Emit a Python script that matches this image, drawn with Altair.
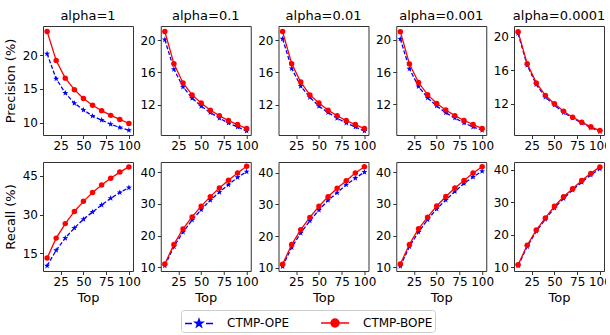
import altair as alt
import pandas as pd

TOPS = [10, 20, 30, 40, 50, 60, 70, 80, 90, 100]
ALPHAS = ["1", "0.1", "0.01", "0.001", "0.0001"]
SERIES = ["CTMP-OPE", "CTMP-BOPE"]

PREC_OPE = [
    [20.2, 16.5, 14.4, 12.9, 11.9, 11.0, 10.4, 9.8, 9.3, 8.9],
    [20.1, 16.4, 14.2, 12.8, 11.8, 11.0, 10.3, 9.7, 9.2, 8.7],
    [20.2, 16.5, 14.3, 12.9, 11.8, 11.0, 10.3, 9.7, 9.2, 8.7],
    [20.1, 16.4, 14.2, 12.8, 11.8, 10.95, 10.3, 9.7, 9.2, 8.8],
    [20.4, 16.6, 14.3, 12.8, 11.85, 10.95, 10.3, 9.7, 9.15, 8.7],
]
PREC_BOPE = [
    [23.5, 19.2, 16.6, 14.9, 13.6, 12.6, 11.8, 11.1, 10.5, 9.9],
    [21.1, 17.1, 14.7, 13.2, 12.2, 11.3, 10.6, 10.0, 9.5, 9.0],
    [21.1, 17.1, 14.8, 13.2, 12.2, 11.3, 10.6, 10.0, 9.5, 9.0],
    [21.0, 17.0, 14.7, 13.2, 12.1, 11.3, 10.6, 10.0, 9.5, 9.0],
    [20.6, 16.8, 14.5, 13.0, 12.0, 11.1, 10.4, 9.8, 9.25, 8.8],
]
REC_OPE = [
    [10.2, 16.2, 20.9, 24.8, 28.2, 31.0, 33.7, 36.3, 38.5, 40.4],
    [10.5, 16.5, 21.1, 24.9, 28.2, 31.2, 33.7, 36.1, 38.4, 40.2],
    [10.4, 16.4, 21.0, 24.8, 28.2, 31.3, 33.7, 36.2, 38.3, 40.2],
    [10.3, 16.5, 21.1, 25.0, 28.4, 31.2, 33.9, 36.4, 38.5, 40.3],
    [10.5, 16.4, 21.1, 24.8, 28.3, 31.2, 33.8, 36.2, 38.4, 40.3],
]
REC_BOPE = [
    [13.2, 20.9, 26.5, 31.2, 35.1, 38.5, 41.4, 44.0, 46.4, 48.4],
    [11.0, 17.2, 22.1, 25.9, 29.3, 32.3, 35.0, 37.5, 39.8, 41.9],
    [11.05, 17.3, 22.0, 25.9, 29.4, 32.4, 35.1, 37.5, 39.9, 41.9],
    [11.0, 17.2, 22.1, 25.8, 29.3, 32.3, 35.0, 37.4, 39.7, 41.7],
    [10.8, 16.8, 21.5, 25.2, 28.8, 31.7, 34.2, 36.7, 38.9, 40.9],
]

PREC_DOMAIN = [[8.2, 24.3], [8.2, 21.8], [8.2, 21.8], [8.2, 21.7], [8.27, 21.3]]
REC_DOMAIN = [[8.2, 50.3], [8.8, 43.25], [8.95, 43.4], [8.8, 43.2], [8.9, 42.4]]
PREC_TICKS = [[10, 15, 20], [12, 16, 20], [12, 16, 20], [12, 16, 20], [12, 16, 20]]
REC_TICKS = [[15, 30, 45], [10, 20, 30, 40], [10, 20, 30, 40], [10, 20, 30, 40], [10, 20, 30, 40]]
X_TICKS = [25, 50, 75, 100]

BLUE = "#0000ff"
RED = "#ff0000"

STAR_POINT = ("M0,-1L0.235,-0.324L0.951,-0.309L0.38,0.124L0.588,0.809L0,0.4"
              "L-0.588,0.809L-0.38,0.124L-0.951,-0.309L-0.235,-0.324Z")
STAR = ("M0,-0.4L0.094,-0.13L0.38,-0.124L0.152,0.05L0.235,0.324L0,0.16"
        "L-0.235,0.324L-0.152,0.05L-0.38,-0.124L-0.094,-0.13Z")
BLUE_SYM = "M-1.4,0H-0.7M0.7,0H1.4" + STAR
RED_SYM = "M-1.4,0H1.4M0.4,0A0.4,0.4 0 1,1 -0.4,0A0.4,0.4 0 1,1 0.4,0Z"


def make_df(tops, ope, bope):
    return pd.DataFrame({
        "rank": list(tops) + list(tops),
        "series": [SERIES[0]] * len(tops) + [SERIES[1]] * len(tops),
        "value": list(ope) + list(bope),
    })


def panel(metric, i):
    top_row = metric == "Precision"
    if top_row:
        d = make_df(TOPS, PREC_OPE[i], PREC_BOPE[i])
        dom, ticks = PREC_DOMAIN[i], PREC_TICKS[i]
    else:
        d = make_df(TOPS, REC_OPE[i], REC_BOPE[i])
        dom, ticks = REC_DOMAIN[i], REC_TICKS[i]
    xaxis = alt.Axis(values=X_TICKS, title="Top") if not top_row else alt.Axis(values=X_TICKS, title="")
    yaxis = alt.Axis(values=ticks, title=f"{metric} (%)") if i == 0 else alt.Axis(values=ticks, title="")
    base = alt.Chart(d).encode(
        x=alt.X("rank:Q", scale=alt.Scale(domain=[5.5, 104.5], nice=False, zero=False), axis=xaxis),
        y=alt.Y("value:Q", scale=alt.Scale(domain=dom, nice=False, zero=False), axis=yaxis),
    )
    ope = base.transform_filter(alt.datum.series == SERIES[0])
    bope = base.transform_filter(alt.datum.series == SERIES[1])
    layers = [
        ope.mark_line(color=BLUE, strokeWidth=1.3, strokeDash=[4, 2]),
        ope.mark_point(shape=STAR_POINT, filled=True, color=BLUE, size=40, opacity=1),
        bope.mark_line(color=RED, strokeWidth=1.3),
        bope.mark_point(shape="circle", filled=True, color=RED, size=30, opacity=1),
    ]
    if top_row and i == 0:
        layers.append(
            base.mark_point(filled=True, size=0, opacity=1).encode(
                fill=alt.Fill("series:N", scale=alt.Scale(domain=SERIES, range=[BLUE, RED]),
                              legend=alt.Legend(title="")),
                stroke=alt.Stroke("series:N", scale=alt.Scale(domain=SERIES, range=[BLUE, RED]),
                                  legend=alt.Legend(title="")),
                shape=alt.Shape("series:N", scale=alt.Scale(domain=SERIES, range=[BLUE_SYM, RED_SYM]),
                                legend=alt.Legend(title="")),
            )
        )
    ch = alt.layer(*layers).properties(width=90, height=109)
    if top_row:
        ch = ch.properties(title="alpha=" + ALPHAS[i])
    return ch


row1 = alt.hconcat(*[panel("Precision", i) for i in range(5)], spacing=27.75, bounds="flush")
row2 = alt.hconcat(*[panel("Recall", i) for i in range(5)], spacing=27.75, bounds="flush")
chart = alt.vconcat(row1, row2, spacing=9).properties(
    padding={"left": 4, "top": 9, "right": -6, "bottom": 0}
).configure_view(
    stroke="#333333", strokeWidth=1
).configure_axis(
    domain=False, grid=False, tickColor="#333333", tickSize=3.5,
    labelFont="DejaVu Sans", labelFontSize=12, labelColor="black", labelPadding=1.5,
    titleFont="DejaVu Sans", titleFontSize=13, titleFontWeight="normal", titleColor="black",
    titlePadding=4.5,
).configure_axisY(
    labelPadding=2
).configure_title(
    font="DejaVu Sans", fontSize=13, fontWeight="normal", color="black", offset=3
).configure_legend(
    orient="none", legendX=138, legendY=284, direction="horizontal", columns=2,
    fillColor="white", strokeColor="#cccccc", cornerRadius=3, padding=2,
    symbolSize=400, symbolStrokeWidth=1.5, symbolOffset=5, labelFont="DejaVu Sans",
    labelFontSize=12, labelColor="black", labelOffset=17, columnPadding=29,
)

chart.save("out.html", embed_options={"renderer": "svg", "actions": False})
